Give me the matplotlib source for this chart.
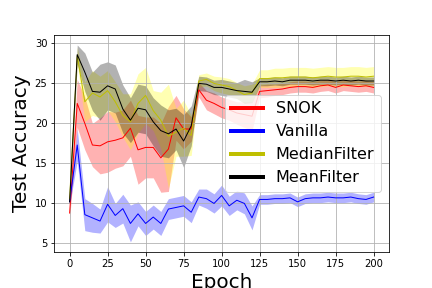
import numpy as np
import matplotlib
matplotlib.use("Agg")
import matplotlib.pyplot as plt

epochs = list(range(0, 201, 5))

snok_mean = [8.7, 22.4, 19.9, 17.2, 17.1, 17.6, 17.8, 18.1, 19.3, 16.6, 16.9, 16.9,
             15.6, 16.7, 20.6, 19.2, 19.2, 24.1, 22.8, 22.4, 21.9, 21.6, 21.2, 21.0,
             20.8, 23.9, 24.0, 24.1, 24.2, 24.4, 24.5, 24.5, 24.4, 24.6, 24.7, 24.4,
             24.7, 24.6, 24.5, 24.6, 24.4]
snok_std = [0.7, 3.0, 3.3, 2.7, 3.5, 3.8, 3.5, 3.5, 3.5, 4.3, 3.8, 3.8,
            4.3, 5.3, 2.8, 2.5, 1.5, 0.9, 1.2, 1.3, 1.3, 1.3, 1.4, 1.6,
            1.8, 0.8, 0.8, 0.7, 0.7, 0.7, 0.7, 0.7, 0.7, 0.7, 0.7, 0.7,
            0.7, 0.7, 0.7, 0.7, 0.7]

vanilla_mean = [10.1, 17.2, 8.5, 8.1, 7.7, 9.8, 8.4, 9.25, 7.4, 8.6, 7.4, 8.2,
                7.4, 9.2, 9.4, 9.6, 8.8, 10.7, 10.5, 9.9, 10.9, 9.6, 10.3, 9.9,
                8.1, 10.4, 10.4, 10.5, 10.5, 10.6, 10.1, 10.5, 10.6, 10.6, 10.7, 10.6,
                10.6, 10.7, 10.5, 10.4, 10.7]
vanilla_std = [0.4, 2.0, 2.0, 1.8, 1.5, 2.2, 1.5, 1.8, 2.3, 1.5, 1.5, 1.5,
               1.5, 1.3, 1.3, 1.3, 1.3, 1.0, 1.2, 1.2, 1.3, 1.2, 1.2, 1.3,
               1.5, 0.6, 0.6, 0.6, 0.6, 0.6, 0.6, 0.6, 0.6, 0.6, 0.6, 0.6,
               0.6, 0.6, 0.6, 0.6, 0.6]

median_mean = [10.5, 28.4, 22.6, 23.7, 23.2, 24.0, 22.6, 20.9, 20.1, 22.4, 23.4, 21.5,
               20.3, 18.3, 18.8, 19.3, 18.4, 25.2, 25.4, 24.9, 24.7, 24.5, 24.0, 23.5,
               23.7, 25.5, 25.5, 25.6, 25.6, 25.7, 25.7, 25.7, 25.6, 25.7, 25.8, 25.7,
               25.7, 25.8, 25.8, 25.7, 25.8]
median_std = [0.5, 1.0, 2.5, 2.8, 2.6, 2.5, 2.5, 2.7, 3.5, 3.7, 3.5, 2.5,
              3.5, 6.5, 3.0, 3.5, 2.5, 0.8, 0.8, 0.9, 1.0, 1.0, 1.0, 1.1,
              1.1, 1.1, 1.1, 1.2, 1.2, 1.2, 1.2, 1.2, 1.2, 1.2, 1.2, 1.2,
              1.2, 1.2, 1.2, 1.2, 1.2]

meanf_mean = [10.1, 28.5, 26.3, 23.9, 23.8, 24.6, 24.2, 21.7, 20.3, 21.8, 21.6, 20.1,
              19.0, 18.6, 19.2, 17.7, 19.6, 24.9, 24.8, 24.4, 24.4, 24.2, 24.0, 23.9,
              23.8, 25.1, 25.1, 25.2, 25.1, 25.3, 25.3, 25.3, 25.2, 25.3, 25.3, 25.2,
              25.3, 25.2, 25.3, 25.2, 25.2]
meanf_std = [0.3, 1.2, 2.4, 2.4, 3.5, 3.0, 3.0, 3.0, 2.8, 3.0, 3.0, 3.0,
             3.2, 3.0, 2.6, 3.3, 2.5, 0.9, 0.9, 0.9, 1.0, 1.0, 1.0, 1.5,
             1.3, 0.5, 0.5, 0.5, 0.5, 0.5, 0.5, 0.5, 0.5, 0.5, 0.5, 0.5,
             0.5, 0.5, 0.5, 0.5, 0.5]

series = [
    ("SNOK", snok_mean, snok_std, "r", "red"),
    ("Vanilla", vanilla_mean, vanilla_std, "b", "blue"),
    ("MedianFilter", median_mean, median_std, "y", "yellow"),
    ("MeanFilter", meanf_mean, meanf_std, "k", "black"),
]

fig = plt.figure(figsize=(6, 4), dpi=72)
ax = fig.add_axes([0.126, 0.126, 0.774, 0.752])

for name, mean, std, line_color, fill_color in series:
    mean = np.array(mean)
    std = np.array(std)
    ax.plot(epochs, mean, color=line_color, linewidth=1, label=name)
    ax.fill_between(epochs, mean - std, mean + std, color=fill_color, alpha=0.3, linewidth=0)

ax.grid(True)
ax.set_xlabel("Epoch", fontsize=20)
ax.set_ylabel("Test Accuracy", fontsize=20)
ax.set_yticks([5, 10, 15, 20, 25, 30])

leg = ax.legend(loc="center right", fontsize=16)
for line in leg.get_lines():
    line.set_linewidth(4)

fig.savefig("out.png", dpi=72)
